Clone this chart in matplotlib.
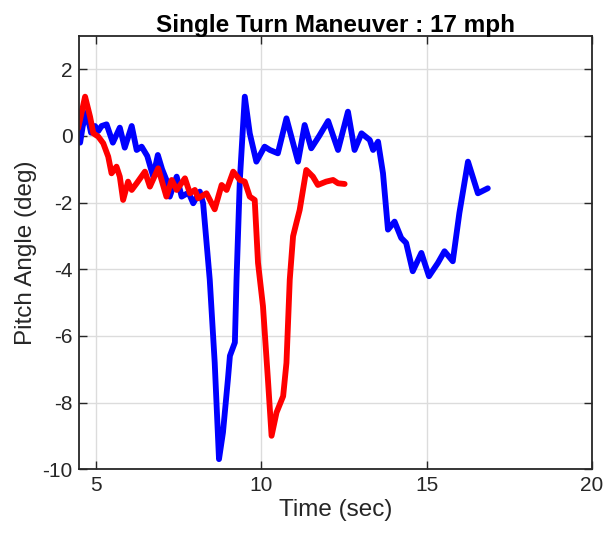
import matplotlib
matplotlib.use('Agg')
import matplotlib.pyplot as plt

plt.rcParams.update({
    'font.family': ['Liberation Sans', 'DejaVu Sans'],
    'figure.facecolor': 'white',
    'axes.unicode_minus': False,
})

# Blue run (time in sec, pitch in deg)
blue_t = [4.52, 4.6, 4.72, 4.85, 4.97, 5.07, 5.17, 5.32, 5.51, 5.72, 5.87, 6.08, 6.23,
          6.38, 6.55, 6.73, 6.87, 7.0, 7.13, 7.23, 7.44, 7.59, 7.8, 7.94, 8.14, 8.24,
          8.44, 8.59, 8.72, 8.84, 8.99, 9.05, 9.2, 9.25, 9.35, 9.5, 9.65, 9.85, 10.1,
          10.26, 10.5, 10.76, 11.11, 11.31, 11.51, 11.75, 12.02, 12.32, 12.62, 12.82,
          13.03, 13.28, 13.38, 13.53, 13.68, 13.83, 14.03, 14.23, 14.38, 14.58, 14.84,
          15.07, 15.34, 15.54, 15.79, 15.99, 16.25, 16.55, 16.85]
blue_y = [-0.2, 0.3, 0.7, 0.1, 0.3, 0.15, 0.3, 0.35, -0.2, 0.25, -0.35, 0.3, -0.42,
          -0.32, -0.6, -1.22, -0.57, -1.0, -1.32, -1.82, -1.22, -1.82, -1.7, -2.02, -1.67, -2.02,
          -4.31, -6.8, -9.7, -8.9, -7.3, -6.6, -6.2, -4.31, -1.32, 1.18, 0.08, -0.77, -0.32,
          -0.42, -0.52, 0.53, -0.77, 0.33, -0.37, 0.0, 0.45, -0.42, 0.73, -0.42,
          0.08, -0.12, -0.42, -0.17, -1.12, -2.81, -2.57, -3.06, -3.21, -4.06, -3.51,
          -4.21, -3.81, -3.46, -3.76, -2.31, -0.77, -1.72, -1.57]

# Red run
red_t = [4.46, 4.67, 4.82, 4.92, 5.07, 5.22, 5.37, 5.47, 5.62, 5.72, 5.82, 5.97, 6.08,
         6.23, 6.48, 6.63, 6.88, 7.13, 7.29, 7.44, 7.69, 7.84, 7.99, 8.09, 8.34, 8.59,
         8.8, 8.95, 9.15, 9.35, 9.5, 9.65, 9.8, 9.9, 10.05, 10.2, 10.31, 10.46, 10.66,
         10.76, 10.86, 10.96, 11.06, 11.16, 11.36, 11.56, 11.71, 11.96, 12.17, 12.32, 12.52]
red_y = [0.23, 1.18, 0.58, 0.08, -0.02, -0.22, -0.62, -1.12, -0.92, -1.22, -1.92, -1.37, -1.62,
         -1.42, -1.07, -1.52, -0.97, -1.82, -1.32, -1.62, -1.27, -1.72, -1.62, -1.87, -1.72, -2.2,
         -1.47, -1.62, -1.07, -1.32, -1.37, -1.82, -1.92, -3.81, -5.11, -7.31, -9.0, -8.3, -7.81,
         -6.81, -4.31, -3.01, -2.61, -2.22, -1.02, -1.22, -1.47, -1.37, -1.32, -1.42, -1.44]

x_ticks = [5, 10, 15, 20]
y_ticks = [-10, -8, -6, -4, -2, 0, 2]

fig = plt.figure(figsize=(6.16, 5.38), dpi=100)
ax = fig.add_axes([0.129, 0.128, 0.832, 0.805])

ax.plot(blue_t, blue_y, color='#0000FF', lw=4.2, solid_joinstyle='round', solid_capstyle='round')
ax.plot(red_t, red_y, color='#FF0000', lw=4.2, solid_joinstyle='round', solid_capstyle='round')

ax.set_xlim(4.5, 20)
ax.set_ylim(-10, 3)
ax.set_xticks(x_ticks)
ax.set_yticks(y_ticks)
ax.grid(True, color='#DCDCDC', lw=1.0)
ax.set_axisbelow(True)
ax.tick_params(direction='in', top=True, right=True, labelsize=15, colors='#262626',
               length=6, width=1.0, pad=5)
for s in ax.spines.values():
    s.set_color('#262626')
    s.set_linewidth(1.3)

ax.set_xlabel('Time (sec)', fontsize=17.5, color='#262626', labelpad=3)
ax.set_ylabel('Pitch Angle (deg)', fontsize=17.5, color='#262626', labelpad=4)
ax.set_title('Single Turn Maneuver : 17 mph', fontsize=17.5, fontweight='bold', pad=3)

fig.savefig('out.png', dpi=100)
